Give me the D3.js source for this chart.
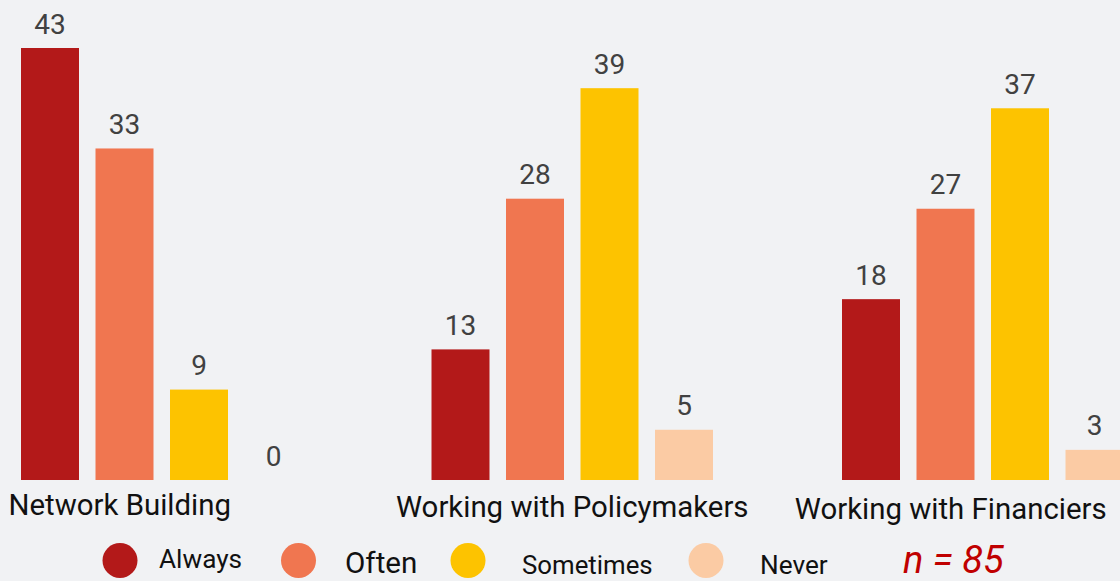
<!DOCTYPE html>
<html>
<head>
<meta charset="utf-8">
<script src="https://cdn.jsdelivr.net/npm/d3@7"></script>
<style>
  html, body { margin: 0; padding: 0; background: #f1f2f4; }
  svg { display: block; font-family: Roboto, "Noto Sans", sans-serif; }
</style>
</head>
<body>
<svg id="chart" width="1120" height="581"></svg>
<script>
// ---- data ----
const categories = ["Network Building", "Working with Policymakers", "Working with Financiers"];
const seriesNames = ["Always", "Often", "Sometimes", "Never"];
const always    = [43, 13, 18];
const often     = [33, 28, 27];
const sometimes = [9, 39, 37];
const never     = [0, 5, 3];
const sampleLabel = "n = 85";

// ---- styles / layout ----
const colors = ["#b31919", "#f07650", "#fdc300", "#fbcba4"];
const baseY = 480;
const svg = d3.select("#chart");

const seriesValues = [always, often, sometimes, never];
const rows = categories.map((c, i) => ({
  cat: c,
  vals: seriesNames.map((s, j) => ({ series: s, value: seriesValues[j][i] }))
}));

const groupStep = 410.5;
const x0 = d3.scaleBand().domain(categories).range([21, 21 + groupStep * 3]).paddingInner(0).paddingOuter(0);
const barStep = 74.5, pIn = 16.5 / 74.5;
const x1 = d3.scaleBand().domain(seriesNames).range([0, barStep * (4 - pIn)]).paddingInner(pIn).paddingOuter(0);
const y = d3.scaleLinear().domain([0, 43]).range([baseY, 48]);
const color = d3.scaleOrdinal().domain(seriesNames).range(colors);

const g = svg.selectAll("g.grp").data(rows).enter().append("g")
  .attr("class", "grp")
  .attr("transform", d => `translate(${x0(d.cat)},0)`);

g.selectAll("rect").data(d => d.vals).enter().append("rect")
  .attr("x", d => x1(d.series))
  .attr("y", d => y(d.value))
  .attr("width", x1.bandwidth())
  .attr("height", d => baseY - y(d.value))
  .attr("fill", d => color(d.series));

g.selectAll("text.val").data(d => d.vals).enter().append("text")
  .attr("class", "val")
  .attr("x", d => x1(d.series) + x1.bandwidth() / 2)
  .attr("y", d => y(d.value) - 14.5)
  .attr("text-anchor", "middle")
  .attr("font-size", 28)
  .attr("fill", "#414141")
  .text(d => d.value);

// category labels
const labelDx = [-42, 0, -32];
const labelY = [515, 517, 519];
const groupWidth = x1.range()[1];
svg.selectAll("text.cat").data(categories).enter().append("text")
  .attr("class", "cat")
  .attr("x", (d, i) => x0(d) + groupWidth / 2 + labelDx[i])
  .attr("y", (d, i) => labelY[i])
  .attr("text-anchor", "middle")
  .attr("font-size", 29.4)
  .attr("fill", "#111")
  .text(d => d);

// legend
const legCx = [120, 298.5, 468, 706];
const legTx = [159, 345, 522, 760];
const legTy = [568, 573, 574, 574];
const legFs = [26.2, 29.6, 25.8, 26.2];
const leg = svg.append("g");
seriesNames.forEach((s, i) => {
  leg.append("circle").attr("cx", legCx[i]).attr("cy", 560.5).attr("r", 17.5).attr("fill", color(s));
  leg.append("text").attr("x", legTx[i]).attr("y", legTy[i])
    .attr("font-size", legFs[i]).attr("fill", "#111").text(s);
});
svg.append("text").attr("x", 903).attr("y", 573)
  .attr("font-size", 38).attr("font-style", "italic").attr("fill", "#c00000")
  .text(sampleLabel);
</script>
</body>
</html>
